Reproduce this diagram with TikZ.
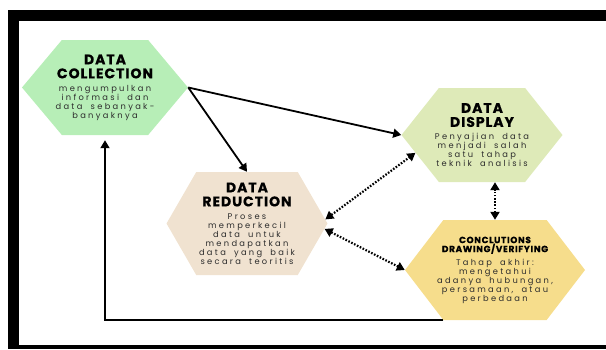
\documentclass[tikz,border=0pt]{standalone}
\usepackage{fontspec}
\setmainfont{Poppins}
\newfontfamily\spaced[LetterSpace=28, WordSpace=1.8]{Poppins}
\newfontfamily\headfont[LetterSpace=7, BoldFeatures={FakeBold=0.6}]{Poppins}
\usetikzlibrary{shapes.symbols,arrows.meta}
\definecolor{mygreen}{RGB}{183,238,183}
\definecolor{mybeige}{RGB}{240,226,208}
\definecolor{myolive}{RGB}{222,234,184}
\definecolor{myyellow}{RGB}{246,221,140}
\definecolor{mytext}{RGB}{45,45,45}
\newcommand{\hexlabel}[3]{\makebox[0pt]{\begin{minipage}{190pt}\centering
    {\headfont\bfseries\fontsize{#1}{#1}\selectfont #2\par}\vspace{4pt}
    {\color{mytext}\spaced\fontsize{8.3}{9}\selectfont #3\par}\end{minipage}}}
\tikzset{
    hexa/.style={signal, signal to=east and west, inner sep=0pt},
    flow/.style={line width=1.8pt, -{Triangle[length=8pt, width=9pt]}},
    dotflow/.style={line width=2.2pt, dash pattern=on 1.6pt off 1.6pt,
        {Triangle[length=8pt, width=9pt]}-{Triangle[length=8pt, width=9pt]}}
}

\begin{document}
\begin{tikzpicture}[x=1pt, y=-1pt]
    \useasboundingbox (0,0) rectangle (606,349);
    % frame
    \fill (8,10) rectangle (606,21);
    \fill (8,10) rectangle (19,349);
    \fill (8,345) rectangle (606,349);

    \node[hexa, fill=mygreen, minimum width=166pt, minimum height=95pt,
        signal pointer angle=100] (coll) at (105,87.5)
        {\hexlabel{14}{DATA\\COLLECTION}{mengumpulkan\\informasi dan\\data sebanyak-\\banyaknya}};
    \node[hexa, fill=mybeige, minimum width=161pt, minimum height=103pt,
        signal pointer angle=120] (red) at (247,223.5)
        {\hexlabel{14}{DATA\\REDUCTION}{Proses\\memperkecil\\data untuk\\mendapatkan\\data yang baik\\secara teoritis}};
    \node[hexa, fill=myolive, minimum width=161pt, minimum height=94pt,
        signal pointer angle=103] (disp) at (482,135)
        {\hexlabel{14}{DATA\\DISPLAY}{Penyajian data\\menjadi salah\\satu tahap\\teknik analisis}};
    \node[hexa, fill=myyellow, minimum width=180pt, minimum height=100pt,
        signal pointer angle=105] (conc) at (495,270)
        {\hexlabel{9}{CONCLUTIONS\\DRAWING/VERIFYING}{Tahap akhir:\\mengetahui\\adanya hubungan,\\persamaan, atau\\perbedaan}};

    \draw[flow] (coll.east) -- (red.north);
    \draw[flow] (coll.east) -- (disp.west);
    \draw[dotflow] (red.3) -- (disp.195);
    \draw[dotflow] (red.-4) -- (conc.west);
    \draw[dotflow] (conc.north) -- (conc.north |- disp.south);
    \draw[flow, shorten >=5pt] (conc.south west) -| (coll.south);
\end{tikzpicture}
\end{document}
